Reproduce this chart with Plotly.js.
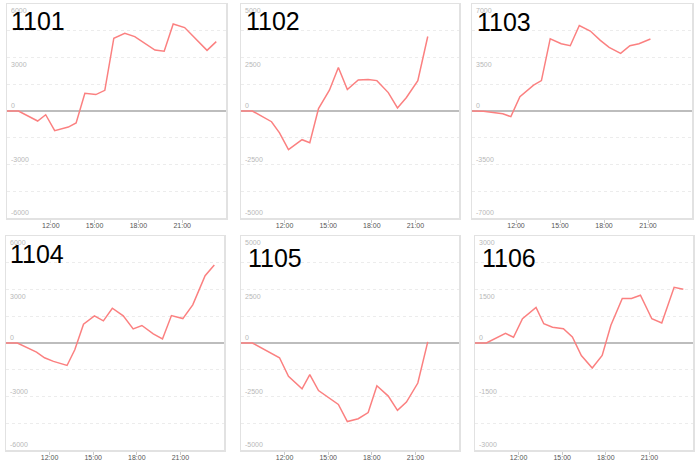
<!DOCTYPE html>
<html>
<head>
<meta charset="utf-8">
<script src="https://cdn.plot.ly/plotly-3.0.1.min.js"></script>
<style>
  html, body { margin: 0; padding: 0; background: #fff; }
  #chart { width: 700px; height: 462px; }
</style>
</head>
<body>
<div id="chart"></div>
<script>
// --- data ---
const DAY = '2020-01-01 ';
const times = ['09:00', '09:47', '11:06', '11:39', '12:16', '13:12', '13:44', '14:20', '15:05', '15:42', '16:19',
               '17:04', '17:45', '18:21', '19:08', '19:46', '20:23', '21:10', '21:51', '22:42', '23:20'];

const names = ['1101', '1102', '1103', '1104', '1105', '1106'];

const s1101 = [0, 0, -560, -210, -1100, -900, -670, 990, 920, 1160, 4080, 4360, 4170, null, 3420, 3350, 4880, 4680, null, 3400, 3890];
const s1102 = [0, 0, -500, -1020, -1800, -1340, -1480, 110, 970, 2030, 1000, 1450, 1470, 1420, 860, 140, 630, 1420, 3480, null, null];
const s1103 = [0, -20, -180, -370, 940, 1690, 1990, 4730, 4400, 4270, 5590, 5230, 4620, 4160, 3770, 4270, 4400, 4710, null, null, null];
const s1104 = [0, 0, -510, -830, -1030, -1260, -380, 1050, 1520, 1240, 1950, 1520, 790, 980, 510, 230, 1540, 1370, 2140, 3770, 4370];
const s1105 = [0, 0, null, -690, -1560, -2140, -1480, -2220, null, -2870, -3670, -3540, -3250, -2000, -2480, -3150, -2760, -1870, 50, null, null];
const s1106 = [0, 0, 270, 160, 680, 1000, 540, 440, 400, 170, -350, -700, -350, 500, 1250, 1250, 1340, 680, 560, 1560, 1510];

const series = [s1101, s1102, s1103, s1104, s1105, s1106];

// axis extent per panel (labels at +-lim, +-lim/2, 0)
const yLimits = [6000, 5000, 7000, 6000, 5000, 3000];
const xTickLabels = ['12:00', '15:00', '18:00', '21:00'];
const xStart = '09:00';
const xEnd = '2020-01-02 00:00';

// --- layout geometry (pixels: left, right, top, bottom) ---
const W = 700, H = 462;
const boxes = [
  [7, 226, 4, 218], [241, 459, 4, 218], [472, 692, 4, 218],
  [6, 224, 236, 450], [241, 459, 236, 450], [475, 693, 236, 450]
];
const titleShift = [[2, -1], [3, -1], [3, -2], [2, -2], [5, -6], [5, -6]];

const lineColor = '#fb8080';
const frameColor = '#e2e2e2';

const traces = [];
const annotations = [];
const layout = {
  width: W, height: H,
  margin: { l: 0, r: 0, t: 0, b: 0 },
  paper_bgcolor: '#fff',
  plot_bgcolor: '#fff',
  showlegend: false,
  font: { family: 'Liberation Sans, Arial, sans-serif' },
  annotations: annotations
};

series.forEach((vals, i) => {
  const n = i === 0 ? '' : String(i + 1);
  const [l, r, t, b] = boxes[i];
  const lim = yLimits[i];

  traces.push({
    x: times.map(tt => DAY + tt),
    y: vals,
    type: 'scatter',
    mode: 'lines',
    connectgaps: true,
    line: { color: lineColor, width: 1.5 },
    hoverinfo: 'skip',
    xaxis: 'x' + n,
    yaxis: 'y' + n
  });

  const gridVals = [];
  for (let k = -4; k <= 4; k++) gridVals.push(k * lim / 4);

  layout['xaxis' + n] = {
    type: 'date',
    domain: [l / W, r / W],
    anchor: 'y' + n,
    range: [DAY + xStart, xEnd],
    tickmode: 'array',
    tickvals: xTickLabels.map(tt => DAY + tt),
    ticktext: xTickLabels,
    ticks: 'outside',
    ticklen: 3,
    tickcolor: '#ccc',
    ticklabelstandoff: -3,
    tickfont: { size: 7, color: '#555' },
    showgrid: false,
    zeroline: false,
    showline: true,
    mirror: true,
    linecolor: frameColor,
    linewidth: 1.5,
    fixedrange: true
  };

  layout['yaxis' + n] = {
    domain: [1 - b / H, 1 - t / H],
    anchor: 'x' + n,
    range: [-lim, lim],
    tickmode: 'array',
    tickvals: gridVals,
    showticklabels: false,
    ticks: '',
    showgrid: true,
    gridcolor: '#ececec',
    griddash: 'dot',
    gridwidth: 1,
    zeroline: true,
    zerolinecolor: '#bdbdbd',
    zerolinewidth: 1.5,
    showline: true,
    mirror: true,
    linecolor: frameColor,
    linewidth: 1.5,
    fixedrange: true
  };

  // y tick labels drawn inside the frame
  [lim, lim / 2, 0, -lim / 2, -lim].forEach(v => {
    annotations.push({
      xref: 'x' + n + ' domain', yref: 'y' + n,
      x: 0, y: v,
      xanchor: 'left',
      yanchor: v > 0 ? 'top' : 'bottom',
      xshift: 2,
      yshift: v > 0 ? -1 : 0,
      text: String(v),
      showarrow: false,
      font: { size: 7, color: '#b8b8b8' }
    });
  });

  // panel title
  annotations.push({
    xref: 'x' + n + ' domain', yref: 'y' + n + ' domain',
    x: 0, y: 1,
    xanchor: 'left', yanchor: 'top',
    xshift: titleShift[i][0], yshift: titleShift[i][1],
    text: names[i],
    showarrow: false,
    font: { size: 25, color: '#000' }
  });
});

Plotly.newPlot('chart', traces, layout, { displayModeBar: false, staticPlot: true });
</script>
</body>
</html>
